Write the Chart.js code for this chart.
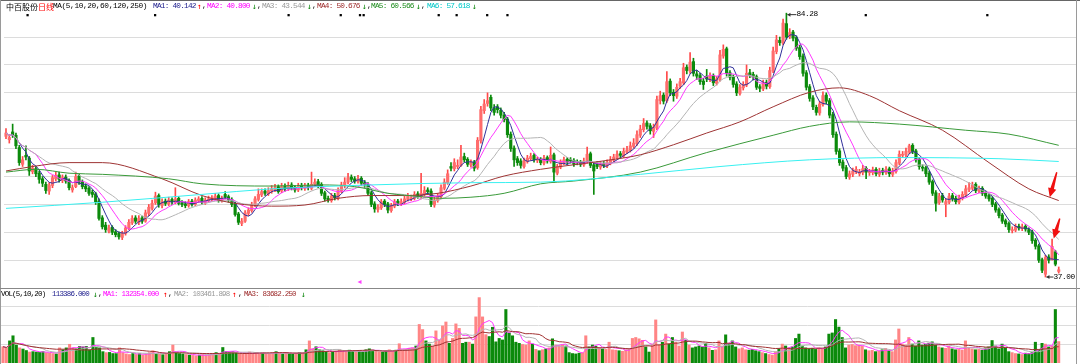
<!DOCTYPE html>
<html><head><meta charset="utf-8">
<script src="https://cdn.jsdelivr.net/npm/chart.js@4.4.1/dist/chart.umd.min.js"></script>
<style>
html,body{margin:0;padding:0;background:#fff;}
#wrap{position:relative;width:1080px;height:364px;overflow:hidden;background:#fff;}
canvas{position:absolute;left:0;}
#pc{top:0;} #vc{top:289px;}
.t{position:absolute;font-family:"Liberation Mono","DejaVu Sans Mono",monospace;font-size:7.8px;letter-spacing:-0.8px;white-space:nowrap;line-height:9px;color:#000;}
.c{font-family:"Noto Sans CJK SC",sans-serif;letter-spacing:0;font-size:8px;}
.ar{font-family:"DejaVu Sans Mono",monospace;letter-spacing:0;}
.ln{position:absolute;background:#8a8a8a;}
</style></head><body>
<div id="wrap">
<canvas id="pc" width="1080" height="289"></canvas>
<canvas id="vc" width="1080" height="75"></canvas>
<div class="ln" style="left:0;top:0;width:1080px;height:1px;background:#666"></div>
<div class="ln" style="left:0;top:0;width:1px;height:364px;background:#9a9a9a"></div>
<div class="ln" style="left:0;top:288px;width:1080px;height:1px;background:#888"></div>
<div class="ln" style="left:1076px;top:0;width:1px;height:364px;background:#9a9a9a"></div>

<span class="t c" style="left:6px;top:2px">中百股份</span>
<span class="t c" style="left:38px;top:2px;color:#ff0000">日线</span>
<span class="t" style="left:53px;top:2px;letter-spacing:-0.4px">MA(5,10,20,60,120,250)</span>
<span class="t" style="left:153px;top:2px;color:#1c1c8c">MA1: 40.142</span><span class="t ar" style="left:197px;top:2px;color:#ff0000">↑</span><span class="t" style="left:202px;top:2px">,</span>
<span class="t" style="left:207px;top:2px;color:#ff00ff">MA2: 40.800</span><span class="t ar" style="left:252px;top:2px;color:#008000">↓</span><span class="t" style="left:257px;top:2px">,</span>
<span class="t" style="left:262px;top:2px;color:#9a9a9a">MA3: 43.544</span><span class="t ar" style="left:307px;top:2px;color:#008000">↓</span><span class="t" style="left:312px;top:2px">,</span>
<span class="t" style="left:317px;top:2px;color:#9c2a2a">MA4: 50.676</span><span class="t ar" style="left:362px;top:2px;color:#008000">↓</span><span class="t" style="left:367px;top:2px">,</span>
<span class="t" style="left:371px;top:2px;color:#1e8c1e">MA5: 60.566</span><span class="t ar" style="left:416px;top:2px;color:#008000">↓</span><span class="t" style="left:421px;top:2px">,</span>
<span class="t" style="left:427px;top:2px;color:#00c8c8">MA6: 57.618</span><span class="t ar" style="left:472px;top:2px;color:#008000">↓</span>

<span class="t" style="left:1px;top:290px;font-size:7.5px">VOL(5,10,20)</span>
<span class="t" style="left:52px;top:290px;font-size:7.5px;color:#1c1c8c">113386.000</span><span class="t ar" style="left:93px;top:290px;color:#008000">↓</span><span class="t" style="left:98px;top:290px">,</span>
<span class="t" style="left:103px;top:290px;font-size:7.5px;color:#ff00ff">MA1: 132354.000</span><span class="t ar" style="left:163px;top:290px;color:#ff0000">↑</span><span class="t" style="left:168px;top:290px">,</span>
<span class="t" style="left:174px;top:290px;font-size:7.5px;color:#9a9a9a">MA2: 103461.898</span><span class="t ar" style="left:232px;top:290px;color:#ff0000">↑</span><span class="t" style="left:238px;top:290px">,</span>
<span class="t" style="left:244px;top:290px;font-size:7.5px;color:#9c2a2a">MA3: 83682.250</span><span class="t ar" style="left:301px;top:290px;color:#008000">↓</span>

<span id="hiLbl" class="t" style="left:0;top:0;letter-spacing:-0.4px">84.28</span>
<span id="loLbl" class="t" style="left:0;top:0;letter-spacing:-0.4px">37.00</span>
</div>
<script>
// ---------------- data ----------------
const opens = [
62.2,61.6,63.0,62.4,60.2,57.2,58.8,58.3,55.9,56.4,
55.6,54.6,53.6,52.4,53.4,54.6,55.3,54.3,54.9,54.3,
52.6,53.2,55.1,54.1,53.3,52.9,52.2,51.9,50.6,47.6,
46.3,45.2,45.9,45.1,44.8,44.1,44.8,45.7,46.7,47.6,
46.8,47.6,47.0,48.4,49.3,50.3,51.6,49.8,50.6,50.1,
50.9,50.4,51.1,50.3,50.1,49.8,50.6,50.0,50.7,51.1,
50.3,50.7,50.9,51.1,51.6,50.7,51.8,51.4,50.9,50.1,
48.3,46.6,47.0,48.4,48.9,49.9,50.9,51.7,52.4,51.9,
52.4,52.7,53.2,52.4,53.3,52.8,53.5,53.1,52.6,53.4,
52.9,53.4,52.9,53.6,54.1,53.6,52.1,51.1,50.7,51.6,
51.1,52.4,53.4,54.0,54.9,54.6,54.1,54.7,53.9,53.6,
52.1,50.1,49.1,49.4,50.6,50.1,48.9,49.7,50.6,50.1,
50.4,50.9,51.0,51.1,51.9,51.4,51.9,52.6,52.4,49.9,
50.7,51.4,52.9,53.9,56.8,56.4,56.8,57.0,58.6,58.1,
57.1,57.6,56.6,61.4,66.8,68.1,69.2,67.3,67.5,66.9,
66.0,65.3,62.6,60.1,58.2,57.8,56.8,57.7,58.2,58.8,
57.9,58.1,57.4,58.4,57.7,58.9,55.6,56.7,57.4,58.1,
58.0,57.9,57.6,57.6,57.1,57.7,59.1,57.1,57.3,56.7,
57.3,56.9,57.4,57.9,58.4,59.1,58.7,59.4,59.7,60.4,
60.9,62.4,63.4,64.6,64.1,63.1,63.7,68.6,69.6,68.6,
72.1,70.1,69.4,71.2,71.8,74.6,73.9,75.6,73.4,73.1,
72.1,73.0,72.4,73.1,71.7,72.4,76.6,77.9,73.6,72.9,
71.6,69.9,70.9,71.4,73.6,73.3,72.9,71.1,70.7,71.9,
71.1,73.9,77.4,79.4,78.9,82.4,80.1,80.9,79.9,78.1,
76.6,73.6,71.1,69.1,67.4,66.4,67.9,69.6,68.6,66.1,
62.6,59.6,57.6,56.6,54.9,55.4,55.9,55.5,55.7,56.5,
55.7,55.7,56.3,55.4,56.1,55.7,56.4,55.4,55.9,57.4,
58.8,58.9,59.4,60.6,59.6,58.1,56.7,56.6,55.6,54.1,
52.1,50.3,51.6,50.0,50.4,51.6,51.1,50.4,51.1,51.7,
52.7,52.9,53.6,52.4,52.9,52.1,51.6,51.1,50.1,49.1,
48.1,47.1,46.6,45.3,45.4,46.1,45.7,46.1,45.5,45.1,
43.6,42.6,40.1,37.5,40.6,40.2,41.5,38.0];
const closes = [
62.8,62.0,62.5,60.5,57.5,58.0,58.5,56.0,56.5,55.5,
54.5,53.8,52.5,53.5,54.8,55.2,54.5,54.8,54.2,53.0,
53.0,55.0,54.0,53.2,52.8,52.0,51.8,50.5,47.5,46.0,
45.5,45.8,45.0,44.6,44.2,44.8,45.8,46.8,47.5,47.0,
47.5,47.0,48.5,49.5,50.2,51.5,50.0,50.5,50.2,50.8,
50.5,51.0,50.2,50.0,49.8,50.5,50.0,50.8,51.0,50.4,
50.8,51.0,51.2,51.5,50.8,51.0,51.3,50.8,50.0,48.2,
46.8,47.0,48.5,49.0,50.0,51.0,51.8,52.3,52.0,52.5,
52.8,53.0,52.3,53.2,52.8,53.4,53.0,52.6,53.3,53.0,
53.3,53.0,53.6,54.0,53.5,52.0,51.0,50.8,51.5,51.2,
52.5,53.5,54.0,54.8,54.5,54.2,54.6,53.8,53.5,52.0,
50.0,49.2,49.5,50.5,50.0,49.0,49.8,50.5,50.2,50.5,
51.0,51.5,51.2,51.8,51.5,52.0,52.5,52.3,50.0,50.8,
51.5,53.0,54.0,55.5,56.5,57.5,57.0,58.5,58.0,57.2,
57.5,56.5,61.5,67.0,68.0,68.6,67.3,66.5,67.0,66.0,
65.2,62.5,60.0,58.0,57.5,57.0,57.8,58.3,58.6,58.0,
58.0,57.5,58.3,57.8,58.8,55.8,56.8,57.5,58.0,57.6,
57.8,57.2,57.5,57.2,57.8,59.0,57.0,56.0,56.8,57.2,
57.0,57.5,58.0,58.5,59.0,58.8,59.5,59.8,60.5,61.0,
62.5,63.5,64.5,64.0,63.2,63.8,68.8,69.5,68.5,72.0,
70.0,69.5,71.0,72.0,74.5,74.0,75.5,73.5,73.0,72.0,
71.5,72.5,73.0,71.8,72.5,76.8,77.8,73.5,72.8,71.5,
70.0,71.0,71.5,73.5,73.2,72.8,71.0,70.8,71.8,71.2,
74.0,77.5,79.5,79.0,82.5,80.0,80.8,79.8,78.0,76.5,
73.5,71.0,69.0,67.5,66.5,68.0,69.5,68.5,66.0,62.5,
59.5,57.5,56.5,55.0,55.5,56.0,56.3,55.8,56.4,55.8,
55.8,56.2,55.5,56.0,55.8,56.3,55.5,56.0,57.5,59.0,
59.0,59.5,60.5,59.5,58.0,56.8,56.5,55.5,54.0,52.0,
50.2,51.5,50.8,50.5,51.5,51.0,50.5,51.2,51.8,52.8,
53.0,53.5,52.5,52.8,52.0,51.5,51.0,50.0,49.0,48.0,
47.0,46.5,45.5,45.5,46.0,45.8,46.0,45.6,45.0,43.5,
42.5,40.0,38.2,40.5,40.0,42.5,39.3,38.3];
const highs = [
63.6,62.5,64.4,62.8,60.6,58.6,60.5,58.6,57.0,56.8,
56.0,55.0,54.0,53.9,55.2,55.8,55.8,55.3,55.3,54.6,
53.5,55.8,55.4,54.4,53.7,53.2,52.6,52.2,51.0,48.0,
46.8,46.3,46.2,45.5,45.1,45.2,46.2,47.3,48.0,48.0,
48.0,47.9,49.0,50.0,50.8,52.2,51.9,51.0,51.0,51.3,
51.2,53.0,51.4,50.7,50.5,50.9,50.9,51.2,51.4,51.4,
51.2,51.5,51.6,52.0,51.9,51.5,52.3,51.7,51.2,50.4,
48.6,47.5,48.9,49.4,50.4,51.4,52.8,52.8,52.8,53.0,
53.4,53.6,53.5,53.8,53.7,54.0,53.9,53.4,53.8,53.8,
53.8,53.8,55.8,54.6,54.5,53.9,52.4,51.5,52.0,52.0,
53.0,54.0,54.8,55.6,55.3,55.0,55.2,55.0,54.3,53.9,
52.4,50.5,50.0,50.9,50.9,50.4,50.2,50.9,50.9,51.0,
51.5,52.0,51.7,52.3,52.3,55.6,53.2,53.0,52.8,51.3,
52.0,53.5,54.6,56.2,57.5,58.2,58.0,60.6,59.2,58.4,
58.0,57.9,62.0,67.6,68.8,70.0,69.6,67.9,67.9,67.3,
66.5,65.6,63.0,60.5,58.6,58.2,58.3,58.8,59.2,59.1,
58.5,58.4,58.8,58.7,60.3,59.2,57.2,58.0,58.5,58.4,
58.4,58.2,58.0,57.9,58.3,60.3,59.4,57.4,57.7,57.7,
57.7,58.0,58.6,59.0,59.6,59.5,60.1,60.4,61.2,61.8,
63.2,64.2,65.4,65.0,64.5,64.4,69.4,70.3,70.0,73.8,
72.5,70.6,71.6,72.6,75.3,75.0,77.2,76.2,74.0,73.5,
72.6,74.2,73.6,73.4,73.0,77.6,78.6,78.2,74.0,73.2,
72.0,71.5,72.0,75.0,74.2,73.7,73.2,71.5,72.3,72.3,
74.6,78.2,80.3,80.0,83.2,84.28,81.5,81.2,80.2,78.5,
77.0,74.0,71.5,69.5,67.8,68.5,70.2,70.0,69.0,66.5,
63.0,60.0,58.0,57.0,56.0,56.5,56.8,56.3,57.0,56.8,
56.3,56.7,56.6,56.5,56.5,56.8,56.7,56.5,58.0,59.6,
59.5,60.1,60.8,60.9,59.9,58.4,57.1,56.9,56.0,54.4,
52.5,52.0,52.0,51.0,52.0,52.0,51.5,51.7,52.3,53.4,
53.9,54.0,53.9,53.3,53.2,52.4,51.9,51.4,50.4,49.4,
48.4,47.4,46.9,46.0,46.5,46.5,46.5,46.4,45.8,45.4,
43.9,42.9,40.4,40.9,41.0,43.8,41.8,38.8];
const lows = [
61.8,61.0,62.0,60.0,57.0,56.8,58.0,55.2,55.5,55.0,
53.8,53.2,52.0,51.8,53.0,54.2,54.0,53.9,53.8,52.6,
52.2,53.0,53.6,52.8,52.3,51.6,51.3,50.0,47.2,45.6,
45.0,44.9,44.6,44.2,43.8,43.7,44.5,45.5,46.4,46.6,
46.4,46.6,46.8,48.0,49.0,50.0,49.5,49.4,49.8,49.8,
50.0,50.1,49.9,49.6,49.4,49.5,49.7,49.8,50.4,50.0,
50.0,50.4,50.6,50.8,50.4,50.4,51.0,50.4,49.6,47.9,
46.4,46.2,46.8,48.0,48.6,49.6,50.6,51.4,51.6,51.6,
52.0,52.3,52.0,52.1,52.4,52.5,52.6,52.2,52.3,52.6,
52.5,52.6,52.6,53.2,53.0,51.6,50.6,50.4,50.4,50.8,
50.8,52.1,53.0,53.7,54.1,53.8,53.8,53.4,53.0,51.6,
49.6,48.6,48.6,49.1,49.6,48.5,48.6,49.4,49.8,49.8,
50.1,50.6,50.7,50.8,51.1,51.0,51.5,51.8,49.6,49.5,
50.4,51.1,52.6,53.6,56.0,56.0,56.4,56.8,57.6,56.8,
56.7,56.0,56.3,61.0,66.3,67.6,66.8,66.0,66.4,65.5,
64.8,62.0,59.5,56.8,57.0,56.5,56.5,57.4,57.9,57.6,
57.5,57.1,57.1,57.4,57.4,54.0,55.3,56.4,57.1,57.2,
57.4,56.8,57.1,56.8,56.8,57.4,56.6,51.8,56.4,56.3,
56.6,56.6,57.1,57.6,58.1,58.4,58.4,59.1,59.4,60.1,
60.6,62.0,63.0,63.5,62.6,62.0,63.4,68.0,68.0,68.3,
69.5,68.5,69.0,70.8,71.5,73.4,73.5,73.0,72.4,71.5,
70.6,72.0,72.0,71.3,71.4,72.1,76.2,73.0,72.3,71.0,
69.5,69.6,70.5,71.1,72.7,72.3,70.6,70.2,70.4,70.7,
70.8,73.6,77.0,78.5,78.6,79.6,79.7,79.3,77.6,76.0,
73.0,70.5,68.5,67.0,66.0,66.0,67.6,68.0,65.5,62.0,
59.0,57.0,56.0,54.6,54.5,55.0,55.5,55.1,55.3,54.6,
55.2,55.3,55.1,55.0,55.3,55.4,55.0,55.0,55.6,57.1,
58.4,58.5,59.1,59.1,57.6,56.3,56.0,55.0,53.6,51.6,
48.8,50.0,50.4,47.8,50.1,50.6,50.1,50.1,50.8,51.4,
52.3,52.6,52.1,52.1,51.6,51.1,50.6,49.6,48.6,47.6,
46.6,46.0,45.0,44.9,45.1,45.4,45.3,45.2,44.6,43.0,
42.0,39.6,37.8,37.0,39.5,40.0,39.0,37.7];
// volume, in thousands
const volumes = [
86,78,117,144,95,80,74,66,58,60,
58,56,60,55,52,50,48,80,70,80,
99,78,75,88,85,88,70,135,82,80,
60,55,56,50,50,80,55,48,45,50,
45,50,42,48,55,65,50,46,44,50,
60,95,55,50,48,45,42,40,38,42,
45,40,48,50,55,52,82,60,58,60,
55,50,48,52,58,50,55,48,52,50,
50,55,60,52,48,56,50,48,52,55,
55,70,117,75,86,70,65,60,55,58,
62,70,65,60,68,62,58,66,60,70,
75,68,62,60,58,65,70,62,68,102,
70,72,78,80,90,204,177,117,100,90,
170,120,196,217,104,130,207,183,104,110,
110,100,244,346,244,150,140,189,112,130,
122,283,159,144,110,104,98,95,117,100,
72,65,70,75,80,128,95,92,95,90,
55,50,48,52,55,144,85,95,88,80,
75,72,110,70,68,65,62,70,72,130,
135,128,120,85,58,100,228,95,110,153,
100,135,110,90,164,120,95,80,85,90,
85,104,80,67,70,117,90,149,100,117,
85,75,80,70,68,72,65,60,55,50,
45,42,60,75,100,90,80,85,130,153,
90,80,75,78,72,80,76,85,153,159,
230,190,135,80,95,98,92,95,88,70,
65,67,60,62,70,77,65,60,122,180,
100,95,135,100,90,117,95,100,105,112,
95,85,80,78,90,75,70,72,68,117,
80,75,70,72,68,80,85,119,90,75,
100,80,60,55,50,48,45,52,50,55,
110,70,104,100,85,90,283,113.4];
// long moving averages: [candle index, value]
const ma60Pts = [[0,56.0],[8,56.8],[19,57.5],[29,57.5],[47,54.6],[59,51.6],[69,50.2],[80,49.7],[90,49.9],[100,51.1],[110,51.6],[120,51.6],[130,52.0],[140,53.3],[150,55.1],[161,56.3],[181,57.9],[191,58.9],[201,60.7],[211,62.8],[221,64.8],[231,67.5],[242,70.1],[251,70.9],[260,69.5],[269,66.8],[282,63.3],[296,57.5],[308,52.8],[317,50.7]];
const ma120Pts = [[0,55.8],[9,56.3],[19,55.6],[29,55.4],[49,54.6],[59,53.7],[80,53.3],[95,53.5],[105,53.2],[115,52.0],[125,51.4],[131,51.1],[140,51.3],[150,52.0],[161,53.7],[171,54.2],[191,55.8],[211,59.3],[231,62.4],[242,64.0],[254,64.8],[269,64.4],[289,63.3],[302,62.6],[317,60.6]];
const ma250Pts = [[0,49.3],[29,50.4],[59,51.8],[80,52.8],[110,53.5],[140,53.9],[161,54.0],[191,55.4],[215,56.8],[242,58.0],[269,58.4],[299,58.2],[317,57.7]];
const markerIdx = [6.5,44.9,85.1,100.8,106.6,107.7,130.3,135.7,144.9,151,258.9,295.5];
const priceGrid = [40,45,50,55,60,65,70,75,80];
const volGrid = [100,200,300];
const hiIdx = 235, hiVal = 84.28, loIdx = 313, loVal = 37.00;
// -------------------------------------

const N = closes.length;
const X_MIN = -0.6, X_MAX = 322.2;
const Y_MIN = 35.57, Y_MAX = 85.92;
const V_MAX = 391.5;
const RED_BODY = '#ff6c6c', RED_WICK = '#ff4a4a', GREEN = '#0b8a0b', VRED = '#ff8585';
const up = closes.map((c,i)=>c>=opens[i]);

function sma(arr,n){
  return arr.map((_,i)=>{const s=Math.max(0,i-n+1);let t=0;for(let k=s;k<=i;k++)t+=arr[k];return {x:i,y:t/(i-s+1)};});
}
const pts = a => a.map(p=>({x:p[0],y:p[1]}));
const idx = closes.map((_,i)=>i);
const lineDs = (data,color,extra) => Object.assign({type:'line',data,borderColor:color,borderWidth:1,pointRadius:0,fill:false,order:0},extra||{});

const priceDeco = {
  id:'priceDeco',
  afterDatasetsDraw(chart){
    const ctx=chart.ctx, xs=chart.scales.x, ys=chart.scales.y;
    ctx.save();
    const hx=xs.getPixelForValue(hiIdx), hy=ys.getPixelForValue(hiVal)+1.5;
    ctx.strokeStyle='#333'; ctx.fillStyle='#333'; ctx.lineWidth=1;
    ctx.beginPath(); ctx.moveTo(hx+1,hy); ctx.lineTo(hx+10,hy); ctx.stroke();
    ctx.beginPath(); ctx.moveTo(hx+1,hy); ctx.lineTo(hx+4,hy-2); ctx.lineTo(hx+4,hy+2); ctx.closePath(); ctx.fill();
    const lx=xs.getPixelForValue(loIdx), ly=ys.getPixelForValue(loVal);
    ctx.beginPath(); ctx.moveTo(lx+1,ly); ctx.lineTo(lx+8,ly); ctx.stroke();
    ctx.beginPath(); ctx.moveTo(lx+1,ly); ctx.lineTo(lx+4,ly-2); ctx.lineTo(lx+4,ly+2); ctx.closePath(); ctx.fill();
    const hl=document.getElementById('hiLbl'); hl.style.left=(hx+10)+'px'; hl.style.top=(hy-4.5)+'px';
    const ll=document.getElementById('loLbl'); ll.style.left=(lx+8)+'px'; ll.style.top=(ly-4.5)+'px';
    function arrow(tx,ty,sx,sy){
      const dx=tx-sx, dy=ty-sy, L=Math.hypot(dx,dy), ux=dx/L, uy=dy/L, nx=-uy, ny=ux;
      const bx=tx-ux*9, by=ty-uy*9;
      ctx.fillStyle='#f01010';
      ctx.beginPath();
      ctx.moveTo(sx+nx*0.7,sy+ny*0.7);
      ctx.lineTo(bx+nx*1.8,by+ny*1.8);
      ctx.lineTo(bx+nx*4.2,by+ny*4.2);
      ctx.lineTo(tx,ty);
      ctx.lineTo(bx-nx*4.2,by-ny*4.2);
      ctx.lineTo(bx-nx*1.8,by-ny*1.8);
      ctx.lineTo(sx-nx*0.7,sy-ny*0.7);
      ctx.closePath(); ctx.fill();
    }
    const a1x=xs.getPixelForValue(314.3), a1y=ys.getPixelForValue(51.3);
    arrow(a1x,a1y,a1x+7,a1y-25);
    const a2x=xs.getPixelForValue(315.5), a2y=ys.getPixelForValue(43.9);
    arrow(a2x,a2y,a2x+6,a2y-20);
    const mx=xs.getPixelForValue(106.6), my=chart.chartArea.bottom-3;
    ctx.fillStyle='#ff40ff';
    ctx.beginPath(); ctx.moveTo(mx-2.5,my); ctx.lineTo(mx+1.5,my-2); ctx.lineTo(mx+1.5,my+2); ctx.closePath(); ctx.fill();
    ctx.restore();
  }
};

new Chart(document.getElementById('pc'),{
  type:'bar',
  data:{datasets:[
    {type:'bar',data:idx.map(i=>({x:i,y:[lows[i],highs[i]]})),backgroundColor:idx.map(i=>up[i]?RED_WICK:GREEN),barThickness:1,grouped:false,order:3},
    {type:'bar',data:idx.map(i=>({x:i,y:[opens[i],closes[i]]})),backgroundColor:idx.map(i=>up[i]?RED_BODY:GREEN),barThickness:2.5,grouped:false,minBarLength:1,order:2},
    lineDs(pts(ma250Pts),'#38f0f0',{cubicInterpolationMode:'monotone'}),
    lineDs(pts(ma120Pts),'#3a9a3a',{cubicInterpolationMode:'monotone'}),
    lineDs(pts(ma60Pts),'#9e3434',{cubicInterpolationMode:'monotone'}),
    lineDs(sma(closes,20),'#b4b4b4'),
    lineDs(sma(closes,10),'#ff38ff'),
    lineDs(sma(closes,5),'#30309a'),
    {type:'scatter',data:markerIdx.map(i=>({x:i,y:Y_MAX-2.0})),pointStyle:'rect',pointRadius:1.6,backgroundColor:'#000',borderColor:'#000',borderWidth:0,order:0}
  ]},
  options:{
    responsive:false,animation:false,events:[],
    layout:{padding:{left:1,right:4,top:0,bottom:0}},
    plugins:{legend:{display:false},tooltip:{enabled:false}},
    scales:{
      x:{type:'linear',min:X_MIN,max:X_MAX,offset:false,display:false},
      y:{type:'linear',min:Y_MIN,max:Y_MAX,display:true,
         ticks:{display:false},border:{display:false},
         grid:{color:'#dcdcdc',lineWidth:1,drawTicks:false},
         afterFit(s){s.width=0;},
         afterBuildTicks(s){s.ticks=priceGrid.map(v=>({value:v}));}}
    }
  },
  plugins:[priceDeco]
});

new Chart(document.getElementById('vc'),{
  type:'bar',
  data:{datasets:[
    {type:'bar',data:idx.map(i=>({x:i,y:volumes[i]})),backgroundColor:idx.map(i=>up[i]?VRED:GREEN),barThickness:2.4,grouped:false,order:2},
    lineDs(sma(volumes,20),'#a03030'),
    lineDs(sma(volumes,10),'#b4b4b4'),
    lineDs(sma(volumes,5),'#ff38ff')
  ]},
  options:{
    responsive:false,animation:false,events:[],
    layout:{padding:{left:1,right:4,top:0,bottom:1}},
    plugins:{legend:{display:false},tooltip:{enabled:false}},
    scales:{
      x:{type:'linear',min:X_MIN,max:X_MAX,offset:false,display:false},
      y:{type:'linear',min:0,max:V_MAX,display:true,
         ticks:{display:false},border:{display:false},
         grid:{color:'#dcdcdc',lineWidth:1,drawTicks:false},
         afterFit(s){s.width=0;},
         afterBuildTicks(s){s.ticks=volGrid.map(v=>({value:v}));}}
    }
  }
});
</script>
</body></html>
